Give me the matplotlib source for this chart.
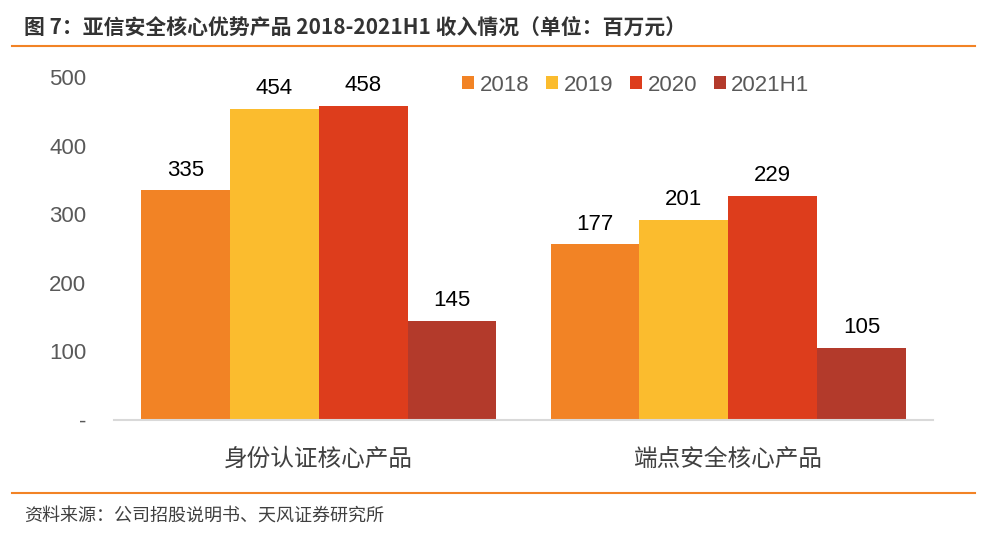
import numpy as np
import matplotlib.pyplot as plt

plt.rcParams['font.family'] = ['Liberation Sans', 'Noto Sans CJK SC', 'DejaVu Sans']

# 数据
categories = ['身份认证核心产品', '端点安全核心产品']
series = ['2018', '2019', '2020', '2021H1']
heights = [[335, 256], [454, 292], [458, 327], [145, 105]]   # 图中柱高
labels = [['335', '177'], ['454', '201'], ['458', '229'], ['145', '105']]  # 图中标注
colors = ['#F28325', '#FBBC2E', '#DD3D1C', '#B33A2B']
yticks = [0, 100, 200, 300, 400, 500]
yticklabels = ['-', '100', '200', '300', '400', '500']

fig = plt.figure(figsize=(10, 5.42), dpi=100)
ax = fig.add_axes([0.114, 0.225, 0.819, 0.633])

x = np.arange(len(categories))
w = 0.867 / 4
for i in range(len(series)):
    pos = x + (i - 1.5) * w
    ax.bar(pos, heights[i], w, color=colors[i], label=series[i], zorder=2)
    for px, h, t in zip(pos, heights[i], labels[i]):
        ax.text(px, h + 14, t, ha='center', va='bottom', fontsize=16, color='black')

ax.set_xlim(-0.5, 1.5)
ax.set_ylim(0, 500)
ax.set_yticks(yticks)
ax.set_yticklabels(yticklabels, fontsize=16, color='#595959')
ax.set_xticks(x)
ax.set_xticklabels(categories, fontsize=17, color='#404040', family=['Noto Sans CJK SC'])
ax.tick_params(axis='y', length=0, pad=20)
ax.tick_params(axis='x', length=0, pad=20)
for s in ['top', 'right', 'left']:
    ax.spines[s].set_visible(False)
ax.spines['bottom'].set_color('#D9D9D9')
ax.spines['bottom'].set_linewidth(1.5)

ax.legend(loc='upper left', bbox_to_anchor=(0.4, 1.065), ncol=4, frameon=False,
          fontsize=16, handlelength=0.55, handleheight=0.55, handletextpad=0.25,
          columnspacing=0.75, labelcolor='#595959')

# 标题与来源
fig.text(0.024, 0.95, '图 7：亚信安全核心优势产品 2018-2021H1 收入情况（单位：百万元）',
         fontsize=15, fontweight='bold', color='#333333', va='center',
         family=['Noto Sans CJK SC', 'DejaVu Sans'])
fig.add_artist(plt.Line2D([0.012, 0.975], [0.915, 0.915], color='#F28325', lw=1.5))
fig.add_artist(plt.Line2D([0.012, 0.975], [0.09, 0.09], color='#F28325', lw=1.5))
fig.text(0.024, 0.046, '资料来源：公司招股说明书、天风证券研究所', fontsize=13,
         color='#404040', va='center', family=['Noto Sans CJK SC', 'DejaVu Sans'])

fig.savefig('out.png', dpi=100)
